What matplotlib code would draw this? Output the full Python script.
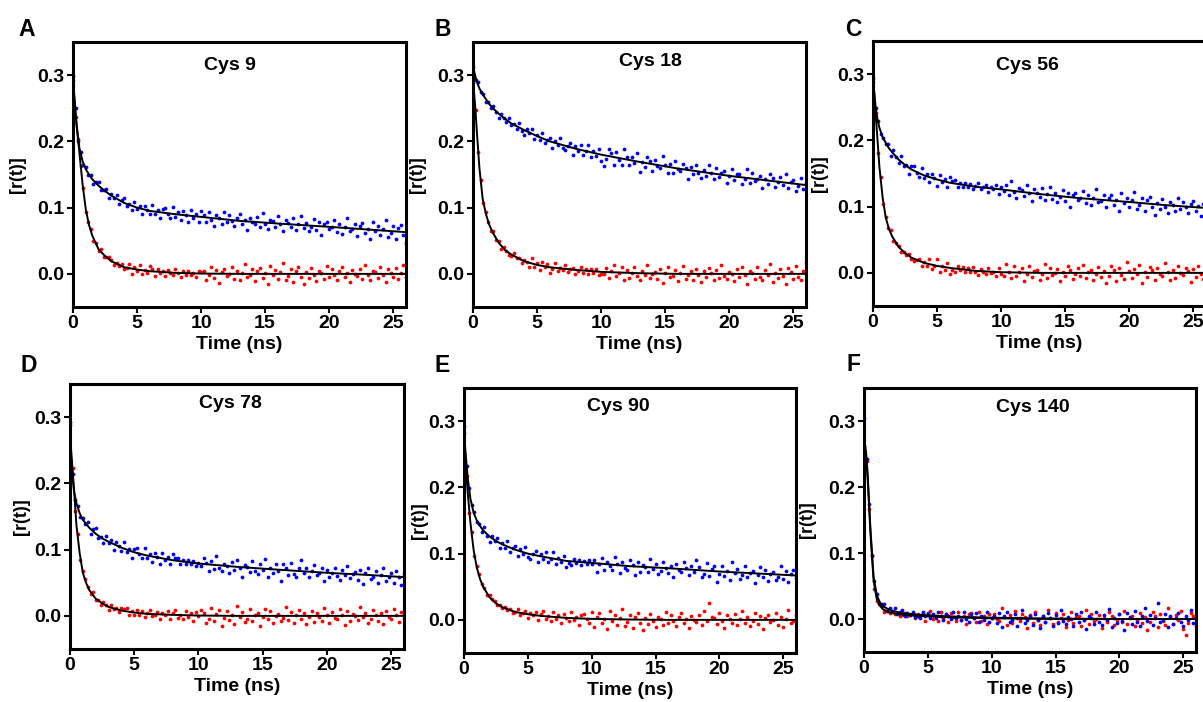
import matplotlib
matplotlib.use("Agg")
import matplotlib.pyplot as plt
import numpy as np
from matplotlib.ticker import FormatStrFormatter

plt.rcParams["font.family"] = "Liberation Sans"
plt.rcParams["font.weight"] = "bold"

# sampling grid of the measured decays (ns), one point every 0.2 ns
t_data = np.linspace(0, 26, 131)
# times at which the fitted curves are listed (ns)
t_fit = [0, 0.1, 0.2, 0.3, 0.5, 0.75, 1, 1.25, 1.5, 2, 2.5, 3, 4, 5, 6, 8, 10, 13, 16, 20, 23, 26]

# all r(t) values below are in units of 0.001

# ---- Cys 9 ----
cys9_blue = [298, 250, 201, 184, 164, 162, 149, 149, 136, 138, 139, 127, 127, 128, 115, 120, 115, 119, 105, 112,
             115, 102, 105, 97, 108, 98, 103, 90, 103, 96, 90, 104, 91, 96, 84, 98, 99, 91, 85, 101,
             86, 93, 81, 95, 89, 78, 96, 85, 91, 79, 95,
             89, 79, 94, 82, 73, 89, 84, 75, 94, 78, 89, 80, 72, 84, 90, 75, 82, 66, 85, 79,
             75, 86, 71, 92, 75, 67, 82, 80, 70, 87, 75, 64, 82, 77, 71, 84, 66, 75, 87, 69,
             77, 64, 71, 83, 66, 78, 58, 75, 79, 68, 71, 82, 63, 75, 60, 71, 84, 65, 68, 75,
             57, 72, 77, 61, 68, 52, 79, 64, 72, 58, 68, 81, 56, 62, 72, 52, 69, 74, 58, 47]
cys9_red = [293, 237, 203, 163, 130, 93, 78, 67, 50, 47, 35, 38, 26, 25, 25, 21, 13, 16, 12, 15,
            8, 9, 15, 0, 11, 5, 13, 0, 6, 1, 12, 7, -3, 8, 2, 5, -3, 6, 2, -1,
            8, 2, -4, 4, -1, 5, -2, 2, -4, 5, 3,
            4, -9, -2, 10, -6, 6, -14, 3, 8, -3, 0, 11, -7, 5, -10, 2, 15, -4, -1, 7,
            -11, 4, 9, -6, 1, -15, 12, -2, 6, -8, 3, 16, -9, -3, 8, -12, 5, 10, -5, -16,
            3, -6, 9, -2, -11, 5, 1, -8, 12, -4, 7, -1, -9, 4, 10, -5, 2, -13, 6, 0,
            -3, 8, -7, 14, -2, -10, 5, 3, -6, 11, -1, -12, 7, 2, -4, 9, -8, 1, 13, -5]
cys9_blue_fit = [295, 270, 245, 222, 190, 170, 158, 150, 143, 133, 125, 118, 107, 100, 95, 90, 86, 80, 76, 71, 67, 63]
cys9_red_fit = [290, 265, 240, 220, 183, 135, 97, 74, 58, 37, 27, 19, 10, 6.5, 4, 1.5, 0.5, 0, 0, 0, 0, 0]

# ---- Cys 18 ----
cys18_blue = [312, 292, 289, 274, 272, 260, 260, 250, 254, 245, 236, 242, 236, 229, 236, 225, 226, 218, 228, 216,
              209, 219, 212, 218, 203, 210, 202, 213, 197, 202, 205, 190, 201, 195, 205, 190, 187, 193, 197, 180,
              193, 185, 195, 180, 185, 195, 176, 185, 178, 188, 171,
              163, 174, 188, 182, 164, 184, 172, 165, 189, 176, 164, 177, 168, 182, 154, 169, 162, 176, 170, 155,
              172, 163, 160, 178, 164, 152, 166, 153, 171, 159, 155, 166, 160, 143, 162, 150, 165, 153, 145, 157,
              148, 165, 153, 143, 160, 146, 152, 156, 137, 147, 159, 141, 150, 151, 136, 143, 159, 137, 152, 140,
              143, 148, 129, 143, 136, 151, 144, 131, 138, 146, 134, 150, 129, 138, 141, 125, 133, 144, 128, 137]
cys18_red = [288, 248, 184, 142, 107, 94, 78, 65, 64, 51, 49, 37, 41, 35, 29, 27, 31, 24, 24, 17,
             21, 18, 11, 24, 11, 16, 6, 18, 11, 15, 2, 7, 16, 4, 9, 6, 14, 3, 7, 9,
             0, 5, 10, 2, 7, 0, 7, 2, 7, -2, 0,
             0, 9, -6, 5, 13, -3, 1, 10, -10, 6, -6, 2, 10, -3, -9, 5, -2, 13, -6, 0,
             3, -8, 7, -14, 2, 10, -5, -3, 6, -11, 1, 12, -7, -2, 4, -9, 8, -1, -13, 5,
             -4, 9, 2, -10, 6, -6, 14, -3, -8, 3, 0, -11, 7, -5, 10, -2, -15, 4, 1, -7,
             11, -4, -9, 6, -1, 15, -12, 2, -6, 8, -3, -16, 9, 3, -8, 12, -5, -10, 5, 16]
cys18_blue_fit = [315, 305, 297, 290, 280, 271, 264, 257, 251, 242, 234, 227, 217, 208, 200, 189, 180, 169, 159, 148, 141, 134]
cys18_red_fit = [290, 270, 245, 215, 160, 114, 91, 75, 64, 47, 36, 29, 19, 13.5, 10, 6, 3, 1, 0, 0, 0, 0]

# ---- Cys 56 ----
cys56_blue = [294, 249, 229, 210, 203, 195, 194, 177, 186, 175, 166, 177, 161, 163, 149, 161, 161, 151, 144, 159,
              143, 149, 137, 149, 143, 131, 148, 137, 142, 130, 145, 138, 140, 130, 136, 130, 136, 130, 134, 126,
              131, 136, 126, 129, 132, 122, 130, 126, 132, 119, 129,
              123, 133, 118, 138, 122, 113, 128, 125, 116, 132, 120, 108, 127, 121, 115, 128, 110, 119, 130, 112,
              121, 107, 114, 125, 109, 121, 100, 117, 121, 110, 113, 123, 105, 117, 102, 113, 126, 107, 109, 117,
              99, 113, 118, 103, 110, 93, 120, 106, 113, 99, 110, 122, 97, 103, 113, 93, 110, 114, 99, 88,
              106, 97, 112, 100, 91, 107, 102, 93, 113, 97, 107, 99, 91, 104, 109, 94, 101, 86, 104, 98]
cys56_red = [288, 242, 181, 144, 104, 85, 68, 64, 48, 45, 41, 31, 32, 27, 29, 21, 18, 19, 21, 11,
             17, 11, 21, 6, 10, 21, 2, 11, 5, 15, -1, 4, 2, 10, 4, 9, 1, 7, 1, 9,
             2, -3, 6, 2, -2, 8, 0, 2, -4, 8, -2,
             -4, 14, 2, -7, 10, -4, 2, 7, -12, -1, 11, -6, 3, 5, -10, -2, 14, -7, 8, -3,
             0, 6, -13, 2, -5, 10, 4, -9, -1, 7, -4, 12, -8, 1, 5, -11, -2, 9, -6, 3,
             -16, -5, 10, 5, -12, 8, -3, -9, 16, 3, -8, 6, -2, 12, -15, 1, -6, 9, 4, -11,
             7, -1, -4, 15, 2, -10, 5, -7, 11, 0, -3, 8, 3, -14, 6, -6, 10, -2, -9, 4]
cys56_blue_fit = [292, 272, 252, 237, 219, 205, 196, 188, 182, 171, 163, 156, 147, 141, 136, 130, 126, 119, 113, 107, 102, 98]
cys56_red_fit = [290, 270, 240, 215, 160, 114, 83, 66, 55, 39, 30, 23, 15, 10.5, 7.5, 3, 1, 0, 0, 0, 0, 0]

# ---- Cys 78 ----
cys78_blue = [292, 214, 175, 166, 149, 147, 139, 141, 124, 131, 132, 117, 119, 110, 121, 110, 114, 100, 112, 105,
              98, 111, 97, 101, 88, 101, 102, 93, 87, 102, 87, 93, 82, 95, 89, 78, 95, 84, 89, 78,
              93, 87, 88, 79, 84, 79, 85, 79, 83, 75, 80,
              75, 87, 80, 68, 83, 71, 91, 73, 68, 79, 75, 64, 82, 69, 84, 72, 58, 77, 74, 66,
              83, 68, 63, 78, 70, 86, 59, 73, 64, 78, 67, 53, 78, 72, 61, 80, 63, 58, 73, 84,
              64, 73, 58, 68, 77, 61, 65, 73, 53, 69, 58, 65, 73, 60, 54, 69, 61, 76, 57, 63,
              66, 54, 69, 48, 64, 72, 56, 58, 67, 50, 62, 72, 53, 58, 64, 50, 67, 58, 46, 63]
cys78_red = [288, 223, 158, 123, 85, 67, 56, 44, 33, 36, 24, 24, 16, 21, 16, 9, 16, 10, 12, 6,
             12, 10, 12, 2, 8, 2, 9, 2, 7, -2, 4, 9, 0, 2, 6, -4, 4, 1, 7, -5,
             5, 9, -3, 2, -5, 8, -1, 5, -8, 6, 0,
             9, 5, -10, -5, 12, -8, 3, 9, -16, -3, 8, -6, 2, -12, 15, -1, 6, -9, -4, 11,
             -7, 1, 4, -15, -2, 10, -5, 7, -11, 0, 3, -8, -3, 14, -6, 6, -10, 2, 9, -4,
             5, -13, -1, 8, -9, 4, -2, -7, 12, 1, -11, 6, -3, -5, 10, 2, -14, 7, -8, 3,
             0, -6, 13, -2, 5, -10, -4, 9, 1, -7, 4, -12, 8, -1, -5, 11, 2, -9, 6, -3]
cys78_blue_fit = [290, 240, 210, 190, 170, 155, 145, 139, 133, 124, 117, 112, 103, 96, 91, 84, 79, 74, 70, 65, 62, 58.5]
cys78_red_fit = [290, 245, 220, 195, 137, 95, 65, 50, 39, 26, 19, 13.5, 8, 5, 3, 1.5, 0.5, 0, 0, 0, 0, 0]

# ---- Cys 90 ----
cys90_blue = [293, 232, 199, 173, 163, 148, 145, 133, 140, 126, 118, 127, 119, 124, 109, 116, 108, 119, 103, 108,
              111, 96, 107, 100, 110, 95, 92, 99, 104, 87, 100, 92, 103, 88, 92, 103, 84, 93, 87, 97,
              80, 86, 83, 92, 86, 91, 83, 89, 84, 91, 85,
              91, 72, 84, 93, 75, 88, 82, 76, 95, 84, 71, 88, 79, 76, 91, 83, 67, 87, 72, 83,
              80, 73, 92, 77, 84, 69, 74, 87, 79, 71, 82, 65, 85, 76, 72, 87, 78, 67, 82, 73,
              91, 80, 65, 69, 86, 66, 77, 82, 57, 70, 81, 66, 74, 60, 87, 71, 77, 62, 67, 82,
              64, 71, 74, 55, 68, 80, 64, 76, 58, 69, 72, 60, 65, 82, 62, 74, 57, 69, 76, 63]
cys90_red = [282, 217, 162, 132, 97, 81, 69, 54, 48, 37, 38, 31, 29, 22, 22, 18, 19, 15, 16, 11,
             12, 17, 8, 10, 13, 3, 10, 7, 12, 0, 9, 14, 1, 6, -1, 12, 2, 8, -4, 9,
             3, -2, 12, 0, 4, -7, 7, 9, 1, -4, 12,
             -10, 5, 10, -5, 2, -14, 13, -1, 7, -7, 3, 16, -9, -3, 8, -12, 5, 10, -5, -16,
             3, -6, 9, -2, -11, 5, 1, -8, 12, -4, 7, -1, -9, 4, 10, -5, 2, -13, 6, 0,
             -3, 8, -7, 14, -2, 25, 5, 3, -6, 11, -1, -12, 7, 2, -4, 9, -8, 1, 13, -5,
             4, -9, -2, 10, -6, 6, -14, 3, 8, -3, 0, 11, -7, 5, -10, 2, 15, -4, -1, 7]
cys90_blue_fit = [290, 258, 235, 213, 183, 162, 150, 142, 135, 126, 119, 114, 106, 100, 96, 89, 86, 81, 78, 73, 70, 67]
cys90_red_fit = [285, 245, 215, 190, 147, 106, 79, 62, 50, 34, 25, 19, 12, 8.5, 6, 3, 1.5, 0.5, 0, 0, 0, 0]

# ---- Cys 140 ----
cys140_blue = [305, 242, 174, 96, 58, 38, 25, 23, 23, 12, 16, 12, 16, 8, 10, 14, 5, 9, 6, 10,
               3, 4, 1, 10, 4, 9, 1, 7, 2, 10, 4, -2, 7, 4, 0, 10, 2, 5, -2, 10,
               0, -5, 7, 2, 9, -4, 4, -2, 10, -4, 2,
               5, -6, 9, -12, 4, 11, -4, -2, 7, -10, 2, 13, -6, -1, 5, -9, 8, -1, -13, 5,
               -4, 9, 2, -10, 6, -6, 14, -3, -8, 3, 0, -11, 7, -5, 10, -2, -15, 4, 1, -7,
               11, -4, -9, 6, -1, 15, -12, 2, -6, 8, -3, -16, 9, 3, -8, 12, -5, -10, 5, 16,
               -3, 6, -9, 2, 25, -5, -1, 8, -12, 4, -7, 1, 9, -4, -10, 5, -2, 13, -6, 0]
cys140_red = [262, 240, 167, 97, 46, 27, 23, 19, 11, 12, 9, 11, 7, 9, 5, 6, 9, 5, 6, 7,
              2, 7, 4, 9, -3, 7, 12, 0, 4, -3, 10, 1, 7, -5, 9, 3, -3, 11, -1, 4,
              -7, 7, 9, 1, -5, 11, -3, 4, -7, 7, 2,
              8, 0, -3, 16, 3, -9, 6, -6, 12, 1, -3, 8, 3, -14, 6, -6, 10, -2, -9, 4,
              -5, 13, 1, -8, 9, -4, 2, 7, -12, -1, 11, -6, 3, 5, -10, -2, 14, -7, 8, -3,
              0, 6, -13, 2, -5, 10, 4, -9, -1, 7, -4, 12, -8, 1, 5, -11, -2, 9, -6, 3,
              -16, -5, 10, 5, -12, 8, -3, -9, 16, 3, -8, 6, -2, 12, -15, -24, -6, 9, 4, -11]
cys140_blue_fit = [270, 262, 245, 215, 138, 64, 36, 25, 19, 14, 11, 9, 7, 5.5, 4.5, 3, 2, 1, 0.5, 0, 0, 0]
cys140_red_fit = [265, 256, 238, 208, 132, 58, 30, 20, 14.5, 10, 8, 6.5, 5, 4, 3, 2, 1, 0.5, 0, 0, 0, 0]

titles = ["Cys 9", "Cys 18", "Cys 56", "Cys 78", "Cys 90", "Cys 140"]
letters = ["A", "B", "C", "D", "E", "F"]
blue_sets = [cys9_blue, cys18_blue, cys56_blue, cys78_blue, cys90_blue, cys140_blue]
red_sets = [cys9_red, cys18_red, cys56_red, cys78_red, cys90_red, cys140_red]
blue_fits = [cys9_blue_fit, cys18_blue_fit, cys56_blue_fit, cys78_blue_fit, cys90_blue_fit, cys140_blue_fit]
red_fits = [cys9_red_fit, cys18_red_fit, cys56_red_fit, cys78_red_fit, cys90_red_fit, cys140_red_fit]

W, H = 1203, 702
# axes boxes in pixels: left, top, right, bottom
boxes = [(73, 42, 406, 307), (473, 42, 806, 307), (873, 41, 1206, 306),
         (70, 384, 404, 649), (464, 388, 796, 653), (864, 388, 1196, 652)]
title_pos = [(0.47, 0.913), (0.534, 0.925), (0.465, 0.906), (0.479, 0.928), (0.464, 0.929), (0.509, 0.926)]
ylabel_x = [-0.141, -0.141, -0.135, -0.12, -0.108, -0.145]
letter_pos = [(18, 36), (435, 36), (845, 36), (20, 372), (435, 372), (846, 371)]

fig = plt.figure(figsize=(W / 100, H / 100), dpi=100)

for i in range(6):
    l, t, r, b = boxes[i]
    ax = fig.add_axes([l / W, 1 - b / H, (r - l) / W, (b - t) / H])

    ax.plot(t_data, np.array(red_sets[i]) / 1000, "o", color="#ff0000", ms=2.7, mew=0)
    ax.plot(t_data, np.array(blue_sets[i]) / 1000, "o", color="#0000ff", ms=2.7, mew=0)
    ax.plot(t_fit, np.array(red_fits[i]) / 1000, color="black", lw=1.4)
    ax.plot(t_fit, np.array(blue_fits[i]) / 1000, color="black", lw=1.4)

    ax.set_xlim(0, 26)
    ax.set_ylim(-0.05, 0.35)
    ax.set_xticks([0, 5, 10, 15, 20, 25])
    ax.set_yticks([0.0, 0.1, 0.2, 0.3])
    ax.yaxis.set_major_formatter(FormatStrFormatter("%.1f"))
    ax.tick_params(direction="out", length=4, width=1.5, labelsize=14, pad=2,
                   top=False, right=False)
    for s in ax.spines.values():
        s.set_linewidth(2.2)

    ax.set_xlabel("Time (ns)", fontsize=14, fontweight="bold")
    ax.xaxis.set_label_coords(0.5, -0.11)
    ax.set_ylabel("[r(t)]", fontsize=13, fontweight="bold")
    ax.yaxis.set_label_coords(ylabel_x[i], 0.5)

    ax.text(title_pos[i][0], title_pos[i][1], titles[i], transform=ax.transAxes,
            ha="center", va="center", fontsize=14, fontweight="bold")

    fig.text(letter_pos[i][0] / W, 1 - letter_pos[i][1] / H, letters[i],
             fontsize=16.5, fontweight="bold", ha="left", va="baseline")

fig.savefig("out.png", dpi=100)
